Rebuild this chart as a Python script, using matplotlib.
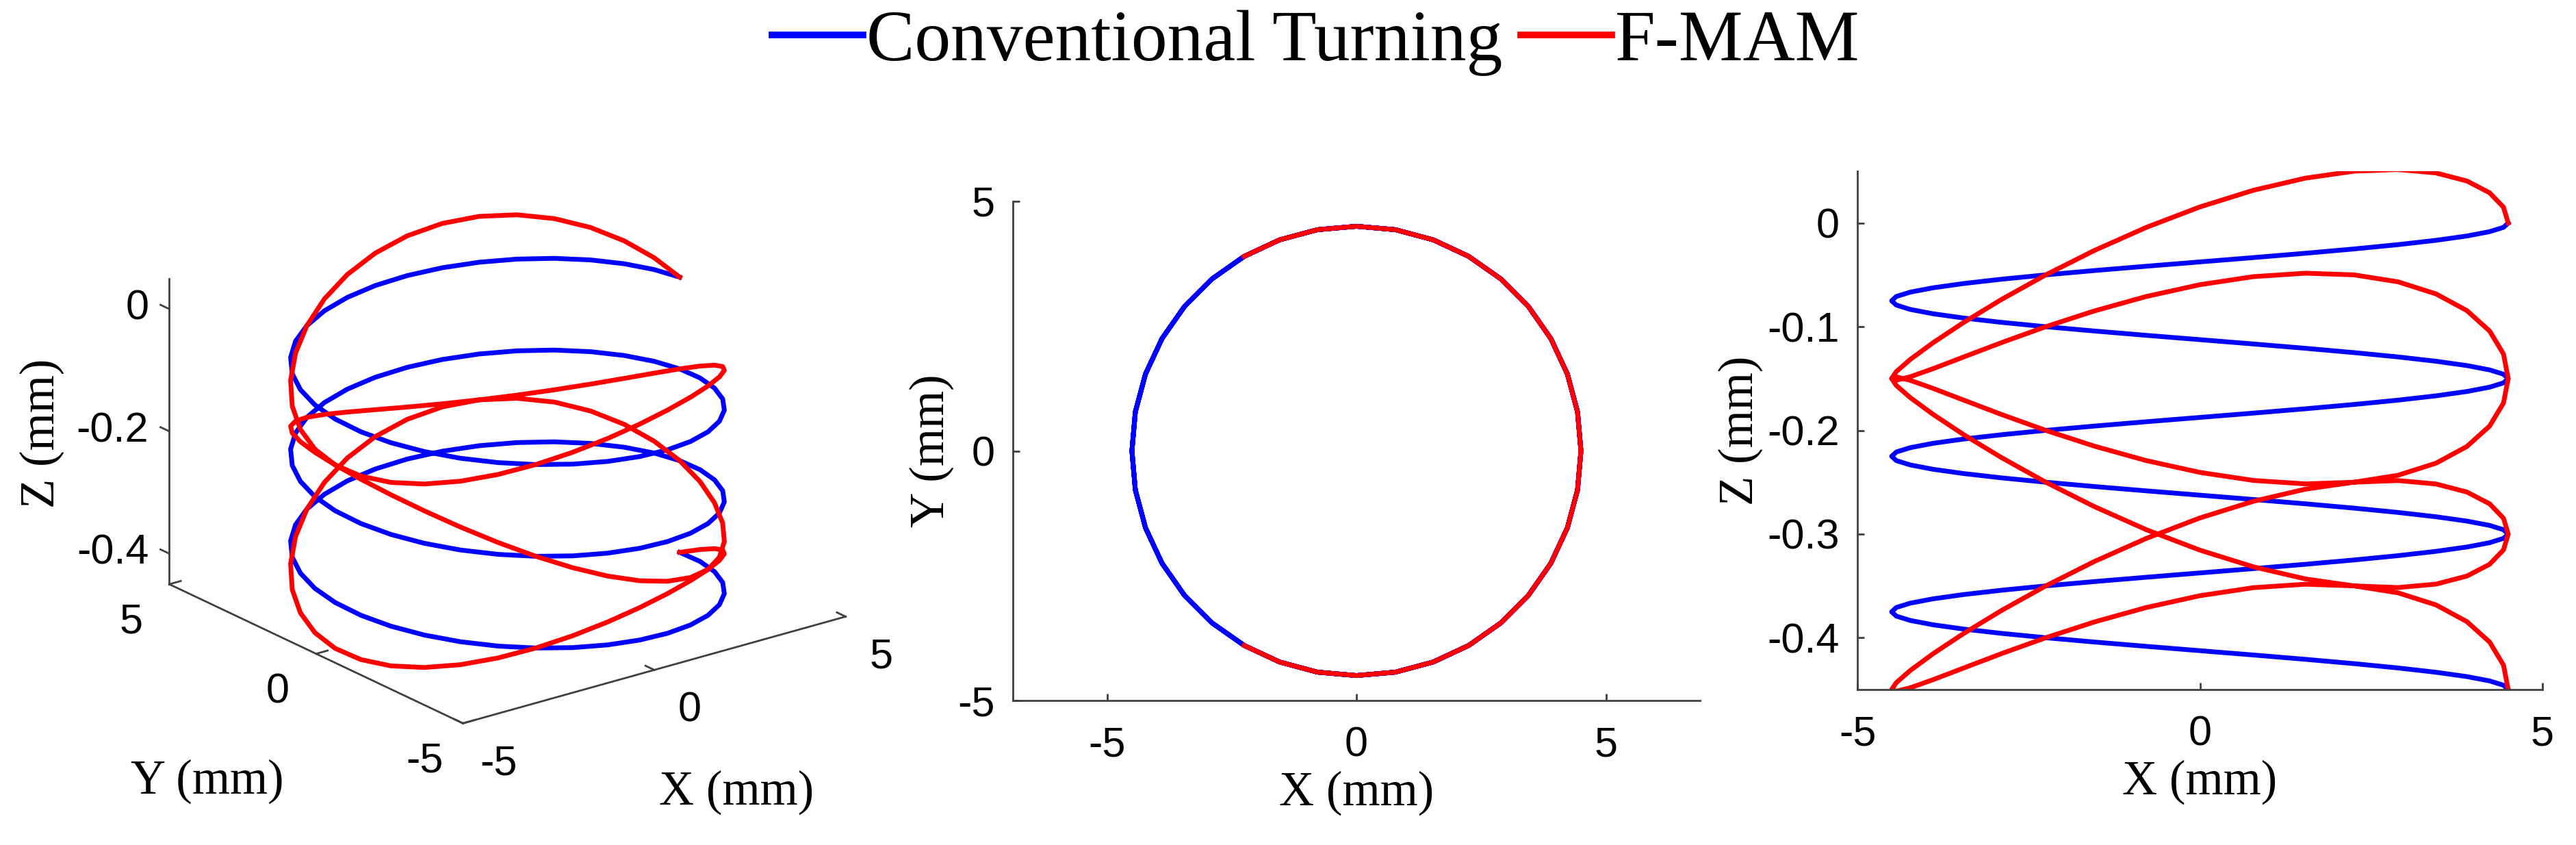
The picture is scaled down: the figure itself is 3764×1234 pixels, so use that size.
import numpy as np
import matplotlib
matplotlib.use("Agg")
import matplotlib.pyplot as plt
from matplotlib.lines import Line2D
from mpl_toolkits.mplot3d import proj3d

# ── Data (tool path) ─────────────────────────────────────────────────────────
radius_mm = 4.5            # workpiece radius
feed_mm_per_rev = 0.15     # axial feed per revolution
n_revs = 3                 # revolutions shown
step_deg = 10              # angular sampling of the path
fmam_amp_mm = 0.075        # F-MAM modulation amplitude
fmam_cycles_per_rev = 1.5  # F-MAM modulation frequency ratio

series_labels = ["Conventional Turning", "F-MAM"]
series_colors = ["#0000FF", "#FF0000"]

xy_ticks = [-5, 0, 5]
z_ticks_3d = [-0.4, -0.2, 0]
z_ticks_side = [-0.4, -0.3, -0.2, -0.1, 0]
xy_lim = (-5, 5)
z_lim = (-0.45, 0.05)

theta_deg = np.arange(0, n_revs * 360 + step_deg, step_deg)
rev = theta_deg / 360.0
x_path = radius_mm * np.cos(np.radians(theta_deg))
y_path = radius_mm * np.sin(np.radians(theta_deg))
z_conv = -feed_mm_per_rev * rev
z_fmam = z_conv + fmam_amp_mm * np.sin(2 * np.pi * fmam_cycles_per_rev * rev)

# ── Figure ───────────────────────────────────────────────────────────────────
W, H, DPI = 3764, 1234, 100
plt.rcParams["axes.unicode_minus"] = False
SERIF = "Liberation Serif"
SANS = "Liberation Sans"
TICK_FS = 44
LABEL_FS = 51
AX_COLOR = "#404040"
AX_LW = 2
LW = 5

fig = plt.figure(figsize=(W / DPI, H / DPI), dpi=DPI)
fig.patch.set_facecolor("white")

# ── 3D view ──────────────────────────────────────────────────────────────────
ax3 = fig.add_axes([0.0, 0.1, 0.36, 0.8], projection="3d",
                   proj_type="ortho", computed_zorder=False)
ax3.view_init(elev=21.3, azim=-127.5)
ax3.set_xlim(*xy_lim)
ax3.set_ylim(*xy_lim)
ax3.set_zlim(*z_lim)
ax3.set_box_aspect((1, 1, 0.68))
ax3.set_axis_off()

xl, yl, zl = xy_lim, xy_lim, z_lim
axis_kw = dict(color=AX_COLOR, lw=AX_LW, zorder=1)
ax3.plot([xl[0], xl[1]], [yl[0], yl[0]], [zl[0], zl[0]], **axis_kw)
ax3.plot([xl[0], xl[0]], [yl[0], yl[1]], [zl[0], zl[0]], **axis_kw)
ax3.plot([xl[0], xl[0]], [yl[1], yl[1]], [zl[0], zl[1]], **axis_kw)
tick_len = 0.3
for t in xy_ticks:
    ax3.plot([t, t], [yl[0], yl[0] + tick_len], [zl[0], zl[0]], **axis_kw)
    ax3.plot([xl[0], xl[0] + tick_len], [t, t], [zl[0], zl[0]], **axis_kw)
for t in z_ticks_3d:
    ax3.plot([xl[0], xl[0]], [yl[1], yl[1] + tick_len], [t, t], **axis_kw)

ax3.plot(x_path, y_path, z_conv, color=series_colors[0], lw=LW, zorder=2)
ax3.plot(x_path, y_path, z_fmam, color=series_colors[1], lw=LW, zorder=3)

# fit the projected box onto the reference footprint (pixels from top-left)
target = (247, 1236, 251, 1056)
fig.canvas.draw()


def project(ax, pts):
    pts = np.asarray(pts, float)
    xs, ys, _ = proj3d.proj_transform(pts[:, 0], pts[:, 1], pts[:, 2], ax.get_proj())
    return np.column_stack([xs, ys])


corners = np.array([[a, b, c] for a in xl for b in yl for c in zl])
p = ax3.transData.transform(project(ax3, corners))
px0, px1 = p[:, 0].min(), p[:, 0].max()
py0, py1 = p[:, 1].min(), p[:, 1].max()
tx0, tx1 = target[0], target[1]
ty0, ty1 = H - target[3], H - target[2]
f = 0.5 * ((tx1 - tx0) / (px1 - px0) + (ty1 - ty0) / (py1 - py0))
bb = ax3.get_position()
cx, cy = (bb.x0 + bb.width / 2) * W, (bb.y0 + bb.height / 2) * H
side = bb.width * W
ncx = (tx0 + tx1) / 2 - f * ((px0 + px1) / 2 - cx)
ncy = (ty0 + ty1) / 2 - f * ((py0 + py1) / 2 - cy)
nside = side * f
ax3.set_position([(ncx - nside / 2) / W, (ncy - nside / 2) / H, nside / W, nside / H])

# tick labels of the 3D axes
lab_kw = dict(textcoords="offset pixels", fontsize=TICK_FS, family=SANS,
              ha="center", va="center", annotation_clip=False)
for t in xy_ticks:
    q = project(ax3, [[t, yl[0], zl[0]]])[0]
    ax3.annotate(f"{t:g}", xy=q, xytext=(52, -60), **lab_kw)
    q = project(ax3, [[xl[0], t, zl[0]]])[0]
    ax3.annotate(f"{t:g}", xy=q, xytext=(-56, -56), **lab_kw)
for t in z_ticks_3d:
    q = project(ax3, [[xl[0], yl[1], t]])[0]
    ax3.annotate(f"{t:g}", xy=q, xytext=(-30, 0),
                 **{**lab_kw, "ha": "right"})

fig.text(61 / W, 1 - 633 / H, "Z (mm)", rotation=90, fontsize=LABEL_FS,
         family=SERIF, ha="center", va="center")
fig.text(303 / W, 1 - 1141 / H, "Y (mm)", fontsize=LABEL_FS,
         family=SERIF, ha="center", va="center")
fig.text(1076 / W, 1 - 1157 / H, "X (mm)", fontsize=LABEL_FS,
         family=SERIF, ha="center", va="center")


def style_2d(ax):
    for s in ("top", "right"):
        ax.spines[s].set_visible(False)
    for s in ("left", "bottom"):
        ax.spines[s].set_color(AX_COLOR)
        ax.spines[s].set_linewidth(AX_LW)
    ax.tick_params(direction="in", length=7, width=AX_LW, color=AX_COLOR,
                   labelsize=TICK_FS)
    ax.tick_params(axis="x", pad=27)
    ax.tick_params(axis="y", pad=19)
    for lab in ax.get_xticklabels() + ax.get_yticklabels():
        lab.set_family(SANS)


# ── Top view (X-Y) ───────────────────────────────────────────────────────────
ax_xy = fig.add_axes([1480 / W, 1 - 1023 / H, 1004 / W, 729 / H])
one_rev = rev <= 1
red_on_top = z_fmam[one_rev] >= z_conv[one_rev] - 1e-9
ax_xy.plot(x_path, y_path, color=series_colors[0], lw=LW)
ax_xy.plot(x_path[one_rev], np.ma.masked_where(~red_on_top, y_path[one_rev]),
           color=series_colors[1], lw=LW)
half_w = (xy_lim[1] - xy_lim[0]) / 2 * (1004 / 729)
ax_xy.set_xlim(-half_w, half_w)
ax_xy.set_ylim(*xy_lim)
ax_xy.set_xticks(xy_ticks)
ax_xy.set_yticks(xy_ticks)
ax_xy.set_xticklabels([f"{t:g}" for t in xy_ticks])
ax_xy.set_yticklabels([f"{t:g}" for t in xy_ticks])
style_2d(ax_xy)
ax_xy.set_xlabel("X (mm)", fontsize=LABEL_FS, family=SERIF, labelpad=6)
ax_xy.set_ylabel("Y (mm)", fontsize=LABEL_FS, family=SERIF, labelpad=4)

# ── Side view (X-Z) ──────────────────────────────────────────────────────────
ax_xz = fig.add_axes([2714 / W, 1 - 1007 / H, 1001 / W, 757 / H])
ax_xz.plot(x_path, z_conv, color=series_colors[0], lw=LW)
ax_xz.plot(x_path, z_fmam, color=series_colors[1], lw=LW)
ax_xz.set_xlim(*xy_lim)
ax_xz.set_ylim(*z_lim)
ax_xz.set_xticks(xy_ticks)
ax_xz.set_yticks(z_ticks_side)
ax_xz.set_xticklabels([f"{t:g}" for t in xy_ticks])
ax_xz.set_yticklabels([f"{t:g}" for t in z_ticks_side])
style_2d(ax_xz)
ax_xz.set_xlabel("X (mm)", fontsize=LABEL_FS, family=SERIF, labelpad=6)
ax_xz.set_ylabel("Z (mm)", fontsize=LABEL_FS, family=SERIF, labelpad=4)

# ── Legend ───────────────────────────────────────────────────────────────────
handles = [Line2D([], [], color=c, lw=LW * 1.4) for c in series_colors]
fig.legend(handles, series_labels, loc="upper center", ncol=2,
           bbox_to_anchor=(1923 / W, 1 - 14 / H), frameon=False,
           prop={"family": SERIF, "size": 76}, handlelength=1.26,
           handletextpad=0.05, columnspacing=0.25, borderpad=0,
           borderaxespad=0)

fig.savefig("out.png", dpi=DPI, facecolor="white")
